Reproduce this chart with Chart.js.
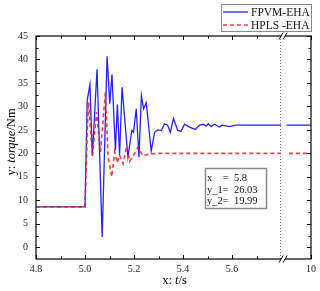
<!DOCTYPE html>
<html>
<head>
<meta charset="utf-8">
<script src="https://cdn.jsdelivr.net/npm/chart.js@4.4.0/dist/chart.umd.min.js"></script>
<style>
  html, body { margin: 0; padding: 0; background: #fff; }
  canvas { display: block; }
</style>
</head>
<body>
<canvas id="myChart" width="320" height="291"></canvas>
<script>
/* data */
const blueX = [4.8, 5.0, 5.009, 5.020, 5.030, 5.049, 5.070, 5.090, 5.101, 5.110, 5.124, 5.132, 5.141, 5.151,
  5.175, 5.191, 5.198, 5.209, 5.220, 5.230, 5.239, 5.250, 5.270, 5.284, 5.296, 5.312, 5.324, 5.337, 5.348,
  5.361, 5.378, 5.392, 5.406, 5.426, 5.450, 5.467, 5.483, 5.494, 5.503, 5.514, 5.528, 5.548, 5.560, 5.589,
  5.616, 5.8, 6.2, 6.55, 10];
const blueY = [8.6, 8.6, 31.3, 34.7, 19.6, 37.9, 2.2, 40.7, 30.6, 36.8, 20.6, 30.4, 19.6, 34.1,
  19.2, 24.9, 24.5, 29.5, 19.2, 32.3, 29.5, 30.8, 20.5, 24.5, 25.0, 24.9, 26.3, 26.0, 24.5,
  27.4, 24.9, 24.7, 26.2, 25.6, 25.1, 26.0, 26.2, 25.8, 26.3, 25.7, 26.2, 25.6, 26.0, 25.7,
  26.0, 26.03, null, 26.03, 26.03];

const redX = [4.8, 5.0, 5.009, 5.015, 5.030, 5.047, 5.063, 5.083, 5.094, 5.109, 5.121, 5.132, 5.141,
  5.155, 5.170, 5.182, 5.198, 5.216, 5.236, 5.263, 5.304, 5.8, 6.2, 6.9, 10];
const redY = [8.6, 8.6, 25.0, 30.9, 19.2, 28.8, 20.3, 33.0, 19.2, 15.0, 20.3, 18.0, 19.6,
  17.8, 21.5, 18.3, 19.6, 21.3, 19.5, 19.9, 19.99, 19.99, null, 19.99, 19.99];

const seriesNames = ['FPVM-EHA', 'HPLS -EHA'];
const xTicks = [4.8, 5.0, 5.2, 5.4, 5.6, 10];
const xTickLabels = ['4.8', '5.0', '5.2', '5.4', '5.6', '10'];
const xMinor = [4.9, 5.1, 5.3, 5.5, 5.7];
const yTicks = [0, 5, 10, 15, 20, 25, 30, 35, 40, 45];
const yMinor = [2.5, 7.5, 12.5, 17.5, 22.5, 27.5, 32.5, 37.5, 42.5];
const cursorX = 5.8;

/* broken x axis: everything past 5.8 is squeezed */
const BREAK = 5.8;
const SQUEEZE = 0.122 / 4.2;
const tx = x => x <= BREAK ? x : BREAK + (x - BREAK) * SQUEEZE;

const toPoints = (xs, ys) => xs.map((x, i) => ({ x: tx(x), y: ys[i] }));

const BLUE = '#2323ff';
const RED = 'rgba(245, 30, 30, 0.85)';
const SERIF = '"Liberation Serif", "DejaVu Serif", serif';

function drawParts(ctx, parts, size) {
  // parts: [text, italic]
  let w = 0;
  parts.forEach(p => {
    ctx.font = (p[1] ? 'italic ' : '') + size + 'px ' + SERIF;
    w += ctx.measureText(p[0]).width;
  });
  let x = -w / 2;
  parts.forEach(p => {
    ctx.font = (p[1] ? 'italic ' : '') + size + 'px ' + SERIF;
    ctx.fillText(p[0], x, 0);
    x += ctx.measureText(p[0]).width;
  });
}

const decor = {
  id: 'decor',
  afterDraw(chart) {
    const ctx = chart.ctx;
    const a = chart.chartArea;
    const xs = chart.scales.x, ys = chart.scales.y;
    ctx.save();

    // cursor line
    const cx = Math.round(xs.getPixelForValue(tx(cursorX))) - 0.5;
    ctx.strokeStyle = '#777';
    ctx.lineWidth = 1;
    ctx.setLineDash([1, 2]);
    ctx.beginPath();
    ctx.moveTo(cx, a.top);
    ctx.lineTo(cx, a.bottom);
    ctx.stroke();
    ctx.setLineDash([]);

    // frame
    ctx.strokeStyle = '#000';
    ctx.lineWidth = 1.2;
    ctx.strokeRect(a.left, a.top, a.right - a.left, a.bottom - a.top);

    // inward ticks
    ctx.lineWidth = 1;
    ctx.beginPath();
    const xt = (v, len) => {
      const p = Math.round(xs.getPixelForValue(tx(v))) + 0.5;
      ctx.moveTo(p, a.bottom); ctx.lineTo(p, a.bottom - len);
      ctx.moveTo(p, a.top); ctx.lineTo(p, a.top + len);
    };
    const yt = (v, len) => {
      const p = Math.round(ys.getPixelForValue(v)) + 0.5;
      ctx.moveTo(a.left, p); ctx.lineTo(a.left + len, p);
      ctx.moveTo(a.right, p); ctx.lineTo(a.right - len, p);
    };
    xTicks.forEach(v => xt(v, 4));
    xMinor.forEach(v => xt(v, 2.5));
    yTicks.forEach(v => yt(v, 4));
    yMinor.forEach(v => yt(v, 2.5));
    ctx.stroke();

    // axis break marks
    const bx = xs.getPixelForValue(tx(BREAK)) + 2;
    [a.bottom, a.top].forEach(yy => {
      ctx.fillStyle = '#fff';
      ctx.fillRect(bx - 2, yy - 1.5, 4, 3);
      ctx.strokeStyle = '#000';
      ctx.lineWidth = 1;
      ctx.beginPath();
      ctx.moveTo(bx - 4, yy + 3.5); ctx.lineTo(bx, yy - 3.5);
      ctx.moveTo(bx, yy + 3.5); ctx.lineTo(bx + 4, yy - 3.5);
      ctx.stroke();
    });

    // legend
    ctx.fillStyle = '#fff';
    ctx.fillRect(221.5, 4.5, 90, 27);
    ctx.strokeStyle = '#8a8a8a';
    ctx.lineWidth = 1;
    ctx.strokeRect(221.5, 4.5, 90, 27);
    ctx.lineWidth = 1.3;
    ctx.strokeStyle = BLUE;
    ctx.beginPath(); ctx.moveTo(223, 12); ctx.lineTo(248, 12); ctx.stroke();
    ctx.strokeStyle = RED;
    ctx.lineWidth = 1.5;
    ctx.setLineDash([4, 3]);
    ctx.beginPath(); ctx.moveTo(223, 25); ctx.lineTo(248, 25); ctx.stroke();
    ctx.setLineDash([]);
    ctx.fillStyle = '#111';
    ctx.font = '11.5px ' + SERIF;
    ctx.textBaseline = 'alphabetic';
    ctx.textAlign = 'left';
    ctx.fillText(seriesNames[0], 251, 16);
    ctx.fillText(seriesNames[1], 251, 29);

    // value box
    const at = (xsArr, ysArr) => {
      const i = xsArr.indexOf(cursorX);
      return ysArr[i];
    };
    ctx.fillStyle = '#fff';
    ctx.fillRect(205.5, 168.5, 61, 40);
    ctx.strokeStyle = '#8a8a8a';
    ctx.strokeRect(205.5, 168.5, 61, 40);
    ctx.fillStyle = '#111';
    ctx.font = '10.5px ' + SERIF;
    ctx.fillText('x    =  ' + cursorX.toFixed(1), 207, 181);
    ctx.fillText('y_1=  ' + at(blueX, blueY).toFixed(2), 207, 192.5);
    ctx.fillText('y_2=  ' + at(redX, redY).toFixed(2), 207, 204);

    // axis titles
    ctx.fillStyle = '#000';
    ctx.textAlign = 'left';
    ctx.save();
    ctx.translate(174.5, 284);
    drawParts(ctx, [['x: ', false], ['t', true], ['/s', false]], 12.5);
    ctx.restore();
    ctx.save();
    ctx.translate(15, 142);
    ctx.rotate(-Math.PI / 2);
    drawParts(ctx, [['y: ', false], ['torque', true], ['/Nm', false]], 12.5);
    ctx.restore();

    ctx.restore();
  }
};

const chart = new Chart(document.getElementById('myChart').getContext('2d'), {
  type: 'line',
  data: {
    datasets: [{
      label: seriesNames[0],
      data: toPoints(blueX, blueY),
      borderColor: BLUE,
      borderWidth: 1.3,
      pointRadius: 0,
      tension: 0,
      spanGaps: false,
      order: 2
    }, {
      label: seriesNames[1],
      data: toPoints(redX, redY),
      borderColor: RED,
      borderWidth: 1.6,
      borderDash: [4, 3],
      pointRadius: 0,
      tension: 0,
      spanGaps: false,
      order: 1
    }]
  },
  options: {
    responsive: false,
    animation: false,
    devicePixelRatio: 1,
    layout: { padding: { left: 0, top: 36, right: 8, bottom: 0 } },
    plugins: {
      legend: { display: false },
      tooltip: { enabled: false }
    },
    scales: {
      x: {
        type: 'linear',
        min: tx(4.8),
        max: tx(10),
        grid: { display: false, drawTicks: false },
        border: { display: false },
        afterBuildTicks: scale => { scale.ticks = xTicks.map(v => ({ value: tx(v) })); },
        afterFit: scale => { scale.height = 32; },
        ticks: {
          autoSkip: false,
          maxRotation: 0,
          padding: 4,
          color: '#222',
          font: { family: SERIF, size: 10 },
          callback: (val, i) => xTickLabels[i]
        }
      },
      y: {
        min: -2.5,
        max: 45,
        grid: { display: false, drawTicks: false },
        border: { display: false },
        afterBuildTicks: scale => { scale.ticks = yTicks.map(v => ({ value: v })); },
        afterFit: scale => { scale.width = 36; },
        ticks: {
          autoSkip: false,
          padding: 8,
          color: '#222',
          font: { family: SERIF, size: 10 },
          callback: val => String(val)
        }
      }
    }
  },
  plugins: [decor]
});
</script>
</body>
</html>
